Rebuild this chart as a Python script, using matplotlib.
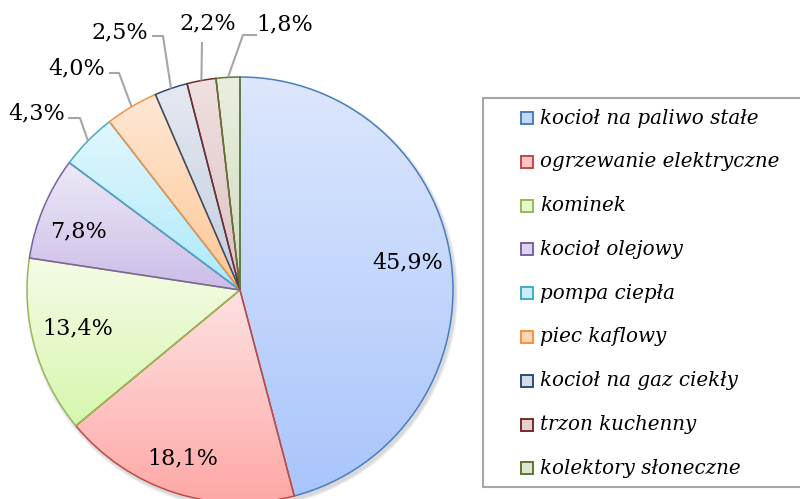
import matplotlib
matplotlib.use("Agg")
import matplotlib.pyplot as plt
import numpy as np
from matplotlib.colors import to_rgb
from matplotlib.patches import Circle, Rectangle

# dane
categories = [
    "kocioł na paliwo stałe",
    "ogrzewanie elektryczne",
    "kominek",
    "kocioł olejowy",
    "pompa ciepła",
    "piec kaflowy",
    "kocioł na gaz ciekły",
    "trzon kuchenny",
    "kolektory słoneczne",
]
shares = [45.9, 18.1, 13.4, 7.8, 4.3, 4.0, 2.5, 2.2, 1.8]

# kolory: krawedz, gradient gora -> dol
edge_colors = ["#4a7ebb", "#be4b48", "#98b954", "#7d60a0", "#46aac5",
               "#f69240", "#2c4d75", "#772c2a", "#5f7530"]
fill_top = ["#dde7fd", "#fde2e2", "#f5fbe6", "#eee9f6", "#e2f7fd",
            "#fee8d5", "#e5e9f1", "#f0e0e0", "#e9efe0"]
fill_bottom = ["#a9c5fb", "#ffa8a6", "#d6f7ad", "#cbbde8", "#ade9fb",
               "#fdc796", "#c3cde0", "#dcc2c2", "#d0dcc0"]

# uklad (piksele)
W, H = 800, 499
CX, CY, R = 240, 290, 213
inside_pos = [(408, 262), (183, 458), (78, 328), (78, 231)]
outside_pos = [(37, 113), (77, 68), (120, 32), (208, 23), (285, 24)]
elbows = [[(68, 118), (80, 118)], [(109, 73), (119, 73)], [(152, 36), (163, 36)],
          [(202, 42)], [(257, 35), (243, 35)]]

FONT = "DejaVu Serif"

fig = plt.figure(figsize=(W / 100, H / 100), dpi=100)
ax = fig.add_axes([0, 0, 1, 1])

# lekki cien
for k, a in enumerate([0.05, 0.05, 0.05]):
    ax.add_patch(Circle((CX + 2, CY + 3), R + 1 + k, color="#000000", alpha=a,
                        lw=0, zorder=0))

wedges, _ = ax.pie(shares, startangle=-90, counterclock=True, center=(CX, CY),
                   radius=R, wedgeprops=dict(linewidth=1.1))

for w, ec, c0, c1 in zip(wedges, edge_colors, fill_top, fill_bottom):
    ext = w.get_path().get_extents()
    grad = np.linspace(to_rgb(c0), to_rgb(c1), 256)[:, None, :]
    im = ax.imshow(grad, extent=(ext.x0, ext.x1, ext.y1, ext.y0), origin="upper",
                   aspect="auto", zorder=1, interpolation="bilinear")
    im.set_clip_path(w)
    w.set_facecolor("none")
    w.set_edgecolor(ec)
    w.set_zorder(2)

labels = [f"{v:.1f}%".replace(".", ",") for v in shares]

for (x, y), lab in zip(inside_pos, labels[:4]):
    ax.text(x, y, lab, ha="center", va="center", fontsize=16, family=FONT, zorder=5)

for w, (x, y), el, lab in zip(wedges[4:], outside_pos, elbows, labels[4:]):
    th = np.deg2rad((w.theta1 + w.theta2) / 2)
    ax_pt = (CX + R * np.cos(th), CY + R * np.sin(th))
    pts = el + [ax_pt]
    ax.plot([p[0] for p in pts], [p[1] for p in pts], color="#a6a6a6", lw=1.5,
            zorder=3, solid_capstyle="butt")
    ax.text(x, y, lab, ha="center", va="center", fontsize=16, family=FONT, zorder=5)

# legenda
ax.add_patch(Rectangle((483, 98), 330, 389, facecolor="white", edgecolor="#a6a6a6",
                       lw=1.5, zorder=4))
y0, dy = 118, 43.8
for i, (cat, ec, c0, c1) in enumerate(zip(categories, edge_colors, fill_top, fill_bottom)):
    y = y0 + i * dy
    mid = tuple((np.array(to_rgb(c0)) + np.array(to_rgb(c1))) / 2)
    ax.add_patch(Rectangle((521, y - 6), 12, 12, facecolor=mid, edgecolor=ec,
                           lw=1.4, zorder=5))
    ax.text(540, y, cat, ha="left", va="center", fontsize=14.3, style="italic",
            family=FONT, zorder=5)

ax.set_xlim(0, W)
ax.set_ylim(H, 0)
ax.set_aspect("equal")
ax.axis("off")

fig.savefig("out.png", dpi=100)
